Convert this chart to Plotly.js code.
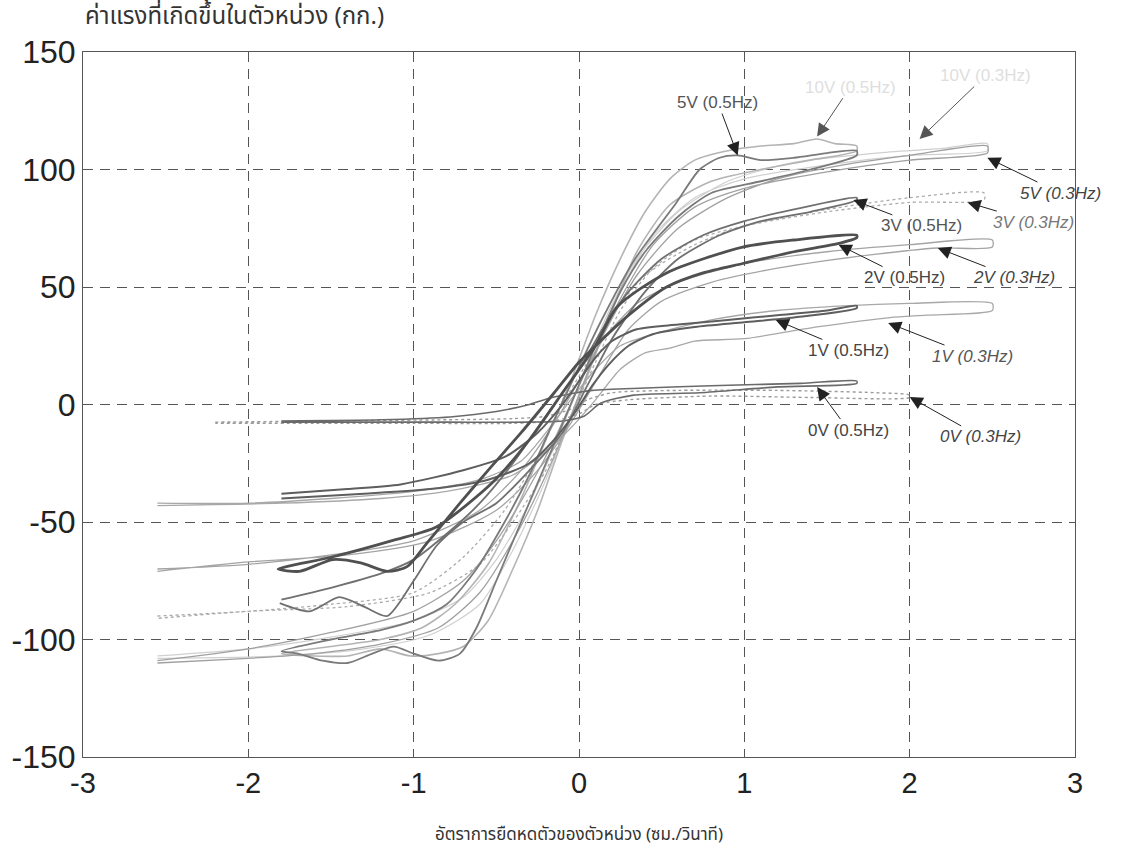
<!DOCTYPE html>
<html>
<head>
<meta charset="utf-8">
<script src="https://cdn.plot.ly/plotly-3.0.1.min.js"></script>
<style>html,body{margin:0;padding:0;background:#fff;}#chart{width:1123px;height:859px;}</style>
</head>
<body>
<div id="chart"></div>
<script>
// ---- data ----
var xTicks = [-3, -2, -1, 0, 1, 2, 3];
var yTicks = [-150, -100, -50, 0, 50, 100, 150];

// 0V
var v0_05_x = [-1.8,-1.2,-0.78,-0.5,-0.3,-0.18,0.08,0.4,0.8,1.34,1.68, 1.68,1.2,0.73,0.33,0.13,0.03,-0.1,-0.3,-0.8,-1.3,-1.8];
var v0_05_y = [-7,-6.5,-5.3,-3,0,2.7,6,7,8,9,10, 9,7.5,5,4,0.5,-5,-7,-7.5,-7.5,-7.5,-7.5];
var v0_03_x = [-2.2,-1.5,-0.8,-0.4,-0.2,-0.05,0.05,0.2,0.6,1.2,1.8,2.0, 2.0,1.4,0.8,0.3,0.1,0,-0.15,-0.4,-1.0,-1.6,-2.2];
var v0_03_y = [-7.5,-7,-6.5,-6,-5,-2,2,5,6,6,5,4, 3,3,3.6,2,0,-4,-7,-8,-8,-8,-8];

// 1V
var v1_05_x = [-1.8,-1.4,-1.08,-0.7,-0.44,-0.25,-0.1,0,0.1,0.2,0.35,0.6,0.9,1.2,1.5,1.68, 1.68,1.3,1.0,0.7,0.45,0.3,0.18,0.08,-0.02,-0.15,-0.3,-0.55,-0.9,-1.3,-1.8];
var v1_05_y = [-38,-36,-34,-28,-22,-12,0,10,20,27,32,34,36,38,40,42, 41,37,35,33,30,25,17,8,-3,-15,-25,-32,-36,-38,-40];
var v1_03_x = [-2.55,-2.0,-1.5,-1.0,-0.6,-0.35,-0.2,-0.05,0.1,0.25,0.45,0.8,1.2,1.6,2.0,2.5, 2.5,2.1,1.88,1.44,1.0,0.7,0.55,0.4,0.25,0.1,-0.05,-0.2,-0.4,-0.8,-1.2,-1.8,-2.55];
var v1_03_y = [-42,-42,-40,-37,-32,-24,-12,2,15,25,30,36,40,42,43,43, 40,38,37,33,28,27,24,22,15,2,-10,-20,-30,-37,-40,-42,-43];

// 2V
var v2_05_x = [-1.82,-1.5,-1.12,-0.86,-0.52,-0.3,-0.1,0.1,0.23,0.53,0.99,1.3,1.68, 1.68,1.58,1.3,0.99,0.75,0.53,0.3,0.13,0,-0.15,-0.35,-0.55,-0.72,-0.92,-1.04,-1.16,-1.32,-1.49,-1.69,-1.82];
var v2_05_y = [-70,-65,-57.7,-52,-33,-15,5,25,41.5,56,67,70,72, 71,68.7,65,60,56,50,38,27,18,5,-12,-28,-42,-59,-69,-71,-67.4,-66,-71,-70];
var v2_03_x = [-2.55,-2.0,-1.5,-1.0,-0.6,-0.35,-0.15,0,0.15,0.35,0.6,1.0,1.5,2.0,2.5, 2.5,2.17,1.8,1.2,0.8,0.5,0.3,0.12,-0.05,-0.25,-0.5,-0.9,-1.4,-2.0,-2.55];
var v2_03_y = [-70,-68,-64,-58,-45,-28,-8,10,28,43,52,60,65,68,70, 67,66.6,64,58,52,44,32,12,-8,-28,-45,-58,-64,-67,-71];

// 3V
var v3_05_x = [-1.8,-1.5,-1.2,-1.0,-0.8,-0.6,-0.4,-0.2,0,0.15,0.3,0.5,0.75,1.0,1.3,1.68, 1.68,1.4,1.1,0.85,0.6,0.4,0.2,0.05,-0.1,-0.3,-0.5,-0.7,-0.86,-1.0,-1.16,-1.3,-1.45,-1.63,-1.81];
var v3_05_y = [-83,-78,-72,-66,-55,-42,-25,-5,15,33,48,62,72,78,83,88, 87,82,78,72,62,48,28,8,-12,-28,-42,-50,-60,-75,-90,-86,-82,-88,-84.5];
var v3_03_x = [-2.55,-2.0,-1.5,-1.0,-0.7,-0.45,-0.25,-0.1,0.05,0.2,0.4,0.7,1.0,1.5,2.0,2.45, 2.45,2.0,1.5,1.0,0.7,0.45,0.25,0.1,-0.05,-0.2,-0.4,-0.6,-0.9,-1.4,-2.0,-2.55];
var v3_03_y = [-90,-88,-85,-80,-65,-45,-22,0,18,38,55,68,76,83,88,90, 87,86,82,76,70,58,40,18,-5,-28,-50,-68,-80,-86,-88,-91];

// 5V
var v5_05_x = [-1.8,-1.5,-1.2,-1.0,-0.8,-0.62,-0.45,-0.3,-0.16,0,0.13,0.33,0.59,0.73,0.85,0.96,1.1,1.3,1.5,1.68, 1.68,1.4,1.1,0.8,0.6,0.4,0.25,0.1,-0.05,-0.2,-0.35,-0.5,-0.62,-0.72,-0.85,-1.0,-1.12,-1.25,-1.4,-1.55,-1.7,-1.8];
var v5_05_y = [-105,-100,-96,-92,-85,-70,-50,-30,-8,16,35,61,86,100,105,106,104,105,107,108, 106,100,95,90,80,65,48,25,0,-25,-50,-75,-95,-106,-109,-106,-103,-106,-110,-109,-106,-105];
var v5_03_x = [-2.55,-2.0,-1.5,-1.0,-0.7,-0.5,-0.3,-0.15,0,0.15,0.35,0.6,0.9,1.2,1.6,2.0,2.47, 2.47,2.0,1.5,1.0,0.7,0.45,0.25,0.1,-0.05,-0.2,-0.4,-0.6,-0.85,-1.2,-1.6,-2.0,-2.55];
var v5_03_y = [-109,-104,-97,-88,-75,-58,-35,-15,8,30,55,75,88,96,102,106,110, 107,104,99,92,84,68,45,22,-5,-30,-58,-80,-95,-102,-106,-108,-110];

// 10V
var v10_05_x = [-1.8,-1.5,-1.2,-0.95,-0.75,-0.55,-0.35,-0.2,-0.05,0.1,0.25,0.4,0.55,0.7,0.9,1.1,1.3,1.44,1.55,1.68, 1.68,1.4,1.1,0.8,0.55,0.35,0.2,0.05,-0.1,-0.25,-0.4,-0.55,-0.7,-0.85,-1.02,-1.2,-1.4,-1.6,-1.8];
var v10_05_y = [-106,-103,-100,-95,-85,-68,-40,-15,10,38,62,82,96,104,108,110,111,113,111,110, 108,104,100,95,85,65,40,12,-15,-45,-70,-92,-103,-106,-107,-104,-107,-107,-106];
var v10_03_x = [-2.55,-2.0,-1.5,-1.0,-0.7,-0.5,-0.3,-0.15,0,0.15,0.35,0.6,0.9,1.3,1.8,2.2,2.47, 2.47,2.0,1.5,1.0,0.7,0.45,0.25,0.1,-0.05,-0.2,-0.4,-0.6,-0.9,-1.3,-1.8,-2.55];
var v10_03_y = [-107,-104,-99,-92,-82,-66,-42,-18,8,35,62,82,95,103,107,109,111, 108,106,102,96,88,72,48,22,-5,-32,-62,-85,-98,-104,-107,-108];

// labels: text, arrow tip (x,y), text centre (x,y)
var labelText = ['5V (0.5Hz)','10V (0.5Hz)','10V (0.3Hz)','5V (0.3Hz)','3V (0.5Hz)','3V (0.3Hz)','2V (0.5Hz)','2V (0.3Hz)','1V (0.5Hz)','1V (0.3Hz)','0V (0.5Hz)','0V (0.3Hz)'];
var labelTipX  = [0.96, 1.44, 2.06, 2.47, 1.66, 2.35, 1.57, 2.17, 1.19, 1.87, 1.44, 2.0];
var labelTipY  = [106, 114, 113, 105, 87, 86, 68, 66.6, 36, 34.7, 7.4, 3.2];
var labelTxtX  = [0.84, 1.64, 2.46, 2.91, 2.07, 2.75, 1.97, 2.63, 1.63, 2.38, 1.63, 2.43];
var labelTxtY  = [128.5, 135, 140, 90, 76, 77.6, 54, 54, 23, 20.6, -10.9, -13.8];
var labelItalic = [false,false,false,true,false,true,false,true,false,true,false,true];
var labelColor = ['#555','#dedede','#dedede','#444','#555','#777','#444','#444','#444','#555','#444','#444'];

var yTitle = 'ค่าแรงที่เกิดขึ้นในตัวหน่วง (กก.)';
var xTitle = 'อัตราการยืดหดตัวของตัวหน่วง (ซม./วินาที)';

// ---- traces ----
function tr(x, y, color, width, dash) {
  return {x: x, y: y, type: 'scatter', mode: 'lines',
    line: {color: color, width: width, dash: dash || 'solid', shape: 'spline', smoothing: 0.7},
    hoverinfo: 'skip', showlegend: false};
}
var data = [
  tr(v10_03_x, v10_03_y, '#d0d0d0', 1.2),
  tr(v10_05_x, v10_05_y, '#b4b4b4', 1.6),
  tr(v0_03_x, v0_03_y, '#9a9a9a', 1.4, 'dot'),
  tr(v1_03_x, v1_03_y, '#a8a8a8', 1.3),
  tr(v2_03_x, v2_03_y, '#a4a4a4', 1.3),
  tr(v3_03_x, v3_03_y, '#ababab', 1.3, 'dot'),
  tr(v5_03_x, v5_03_y, '#a0a0a0', 1.3),
  tr(v0_05_x, v0_05_y, '#6a6a6a', 1.6),
  tr(v5_05_x, v5_05_y, '#7a7a7a', 1.8),
  tr(v3_05_x, v3_05_y, '#707070', 1.8),
  tr(v1_05_x, v1_05_y, '#5e5e5e', 2.0),
  tr(v2_05_x, v2_05_y, '#505050', 2.8)
];

var annotations = [];
for (var i = 0; i < labelText.length; i++) {
  annotations.push({
    x: labelTipX[i], y: labelTipY[i], xref: 'x', yref: 'y',
    ax: labelTxtX[i], ay: labelTxtY[i], axref: 'x', ayref: 'y',
    text: labelItalic[i] ? '<i>' + labelText[i] + '</i>' : labelText[i],
    showarrow: true, arrowhead: 2, arrowsize: 2.6, arrowwidth: 1,
    arrowcolor: i === 1 || i === 2 ? '#555' : '#222',
    standoff: 0, startstandoff: 0,
    font: {family: 'Liberation Sans, Arial, sans-serif', size: 17, color: labelColor[i]}
  });
}
annotations.push({
  xref: 'paper', yref: 'paper', x: 0.0, y: 1.049, xanchor: 'left', yanchor: 'middle',
  text: yTitle, showarrow: false,
  font: {family: 'Noto Sans Thai, Loma, Garuda, Tahoma, DejaVu Sans, sans-serif', size: 24, color: '#333'}
});

var axisCommon = {
  showline: true, mirror: 'ticks', linecolor: '#555', linewidth: 1,
  ticks: 'inside', ticklen: 6, tickcolor: '#555', tickwidth: 1,
  showgrid: true, gridcolor: '#555', gridwidth: 1, griddash: '10px,7px',
  zeroline: false
};

var layout = {
  width: 1123, height: 859,
  margin: {l: 83, r: 48, t: 52, b: 102},
  paper_bgcolor: '#fff', plot_bgcolor: '#fff',
  showlegend: false,
  xaxis: Object.assign({}, axisCommon, {
    range: [-3, 3], tickvals: xTicks, ticktext: xTicks.map(String),
    tickfont: {family: 'Liberation Sans Narrow, Liberation Sans, Arial, sans-serif', size: 29, color: '#222'},
    title: {text: xTitle, standoff: 30,
      font: {family: 'Noto Sans Thai, Loma, Garuda, Tahoma, DejaVu Sans, sans-serif', size: 17, color: '#333'}}
  }),
  yaxis: Object.assign({}, axisCommon, {
    range: [-150, 150], tickvals: yTicks, ticktext: yTicks.map(String),
    tickfont: {family: 'Liberation Sans, Arial, sans-serif', size: 32, color: '#222'}
  }),
  annotations: annotations
};

Plotly.newPlot('chart', data, layout, {displayModeBar: false, staticPlot: true});
</script>
</body>
</html>
